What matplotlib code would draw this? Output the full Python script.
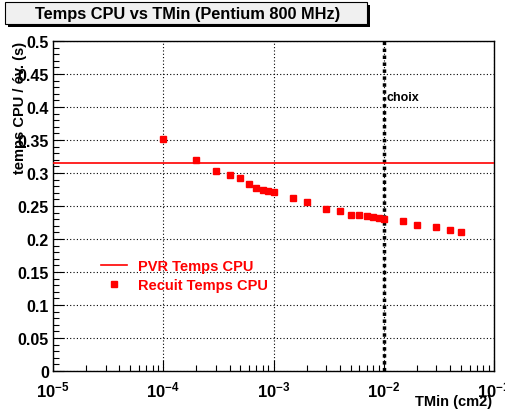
import matplotlib
matplotlib.use("Agg")
import matplotlib.pyplot as plt
from matplotlib.ticker import MultipleLocator, LogLocator, NullFormatter
from matplotlib.patches import Rectangle
import numpy as np

plt.rcParams['font.family'] = ['Liberation Sans', 'DejaVu Sans']
plt.rcParams['font.weight'] = 'bold'
plt.rcParams['mathtext.fontset'] = 'custom'
plt.rcParams['mathtext.rm'] = 'Liberation Sans:bold'
plt.rcParams['mathtext.bf'] = 'Liberation Sans:bold'
plt.rcParams['mathtext.it'] = 'Liberation Sans:bold'
plt.rcParams['mathtext.default'] = 'rm'

tmin = [1e-4, 2e-4, 3e-4, 4e-4, 5e-4, 6e-4, 7e-4, 8e-4, 9e-4, 1e-3,
        1.5e-3, 2e-3, 3e-3, 4e-3, 5e-3, 6e-3, 7e-3, 8e-3, 9e-3, 1e-2,
        1.5e-2, 2e-2, 3e-2, 4e-2, 5e-2]
recuit_cpu = [0.352, 0.320, 0.303, 0.297, 0.293, 0.284, 0.277, 0.275, 0.273, 0.271,
              0.262, 0.256, 0.245, 0.243, 0.237, 0.236, 0.235, 0.233, 0.232, 0.230,
              0.227, 0.221, 0.218, 0.214, 0.210]
pvr_cpu = 0.315
choix = 1e-2
xticks = [1e-5, 1e-4, 1e-3, 1e-2, 1e-1]
xtick_labels = ['$10^{-5}$', '$10^{-4}$', '$10^{-3}$', '$10^{-2}$', '$10^{-1}$']

fig = plt.figure(figsize=(5.06, 4.10), dpi=100)
ax = fig.add_axes([53/506, 1-372/410, (494-53)/506, (372-42)/410])

ax.axhline(pvr_cpu, color='#ff0000', lw=1.2, label='PVR Temps CPU', zorder=3)
ax.plot(tmin, recuit_cpu, 's', color='#ff0000', ms=5, mec='#ff0000', label='Recuit Temps CPU', zorder=4)
ax.axvline(choix, color='black', lw=2.5, ls=(0, (1, 1)), zorder=2)
ax.text(choix * 1.05, 0.415, 'choix', fontsize=9, fontweight='bold', ha='left', va='center')

ax.set_xscale('log')
ax.set_xlim(1e-5, 1e-1)
ax.set_ylim(0, 0.5)
ax.yaxis.set_major_locator(MultipleLocator(0.05))
ax.yaxis.set_minor_locator(MultipleLocator(0.01))
ax.set_xticks(xticks)
ax.set_xticklabels(xtick_labels)
ax.xaxis.set_minor_locator(LogLocator(base=10, subs=np.arange(2, 10), numticks=20))
ax.xaxis.set_minor_formatter(NullFormatter())
ax.yaxis.set_major_formatter(matplotlib.ticker.FuncFormatter(lambda v, p: ('%g' % round(v, 2))))

ax.grid(True, which='major', ls=(0, (1, 2)), color='black', lw=0.8)
ax.tick_params(which='both', direction='in', labelsize=11.5)
ax.tick_params(which='major', length=8, width=0.8, pad=3)
ax.tick_params(which='minor', length=4, width=0.8)
ax.tick_params(axis='x', pad=6, labelsize=12)
for lab in ax.get_xticklabels() + ax.get_yticklabels():
    lab.set_fontweight('bold')
for s in ax.spines.values():
    s.set_linewidth(1.0)

ax.set_xlabel('TMin (cm2)', fontsize=10.5, fontweight='bold', ha='right')
ax.xaxis.set_label_coords(0.995, -0.07)
ax.set_ylabel('temps CPU / év. (s)', fontsize=10.5, fontweight='bold', ha='right')
ax.yaxis.set_label_coords(-0.06, 1.0)

leg = ax.legend(loc='upper left', bbox_to_anchor=(0.078, 0.378), frameon=False,
                fontsize=10.5, handlelength=1.8, handletextpad=0.8, labelspacing=0.35)
for t in leg.get_texts():
    t.set_color('#ff0000')
    t.set_fontweight('bold')

# title box
shadow = Rectangle((8/506, 1-28/410), 362/506, 22/410, transform=fig.transFigure,
                   facecolor='black', edgecolor='black', lw=0)
fig.patches.append(shadow)
box = Rectangle((5/506, 1-25/410), 362/506, 22/410, transform=fig.transFigure,
                facecolor='#f0f0f0', edgecolor='black', lw=0.8)
fig.patches.append(box)
fig.text(188/506, 1-14/410, 'Temps CPU vs TMin (Pentium 800 MHz)', fontsize=11.8,
         fontweight='bold', ha='center', va='center')

fig.savefig('out.png', dpi=100, facecolor='white')
